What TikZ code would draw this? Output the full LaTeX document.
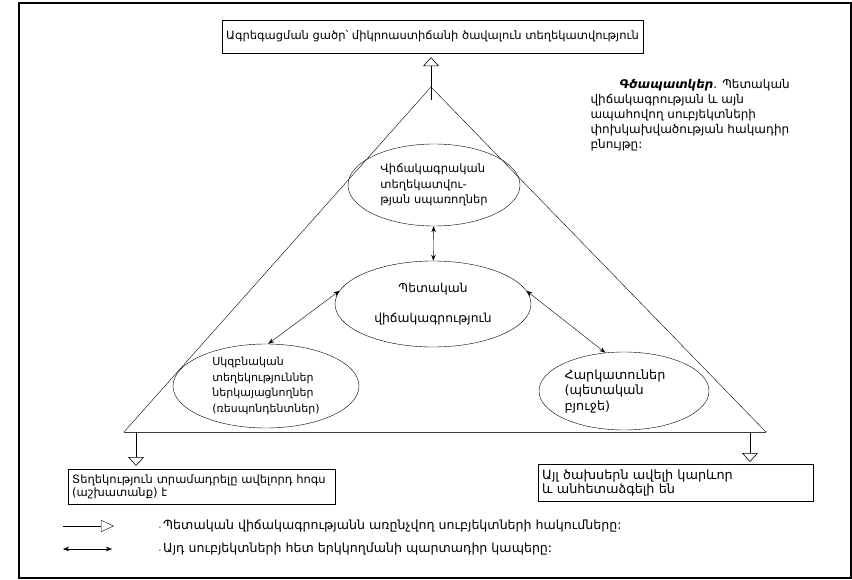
\documentclass[tikz,border=0pt]{standalone}
\usepackage{fontspec}
\setmainfont{DejaVu Sans}
\usetikzlibrary{shapes.geometric, positioning, arrows, arrows.meta}
\tikzset {
    >={Stealth[length=6pt, width=4.5pt]},
    every node/.style={font=\fontsize{11}{15.5}\selectfont},
    size/.style={font=\fontsize{#1}{15.5}\selectfont},
    blob/.style={ellipse, draw, inner sep=0pt, align=left},
    box/.style={rectangle, draw, inner sep=0pt, align=left},
    both/.style={<->},
    push/.style={line width=1pt, -{Triangle[open, length=9pt, width=16pt, line width=0.6pt]}},
    keypush/.style={-{Triangle[open, length=13pt, width=12pt]}}
}

\begin{document}
\begin{tikzpicture}[x=1pt, y=-1pt]
    \useasboundingbox (0,0) rectangle (852,580);
    \draw[line width=1.5pt] (19,3) rectangle (851,578);

    % pyramid
    \coordinate (apex) at (431,87);
    \coordinate (lft) at (124,432);
    \coordinate (rgt) at (766,432);
    \draw (lft) -- (apex) -- (rgt);
    \draw[line width=1pt, black!75] (lft) -- (rgt);

    \node[box, align=center, minimum width=421, minimum height=33, size=11.5] (top) at (432.5,36.5)
        {Ագրեգացման ցածր՝ միկրոաստիճանի ծավալուն տեղեկատվություն};

    \node[blob, minimum width=172, minimum height=82, size=11.5] (stats) at (434,185)
        {Վիճակագրական\\տեղեկատվու-\\թյան սպառողներ};
    \node[blob, minimum width=196, minimum height=86, align=center, size=12.3] (central) at (433,304)
        {Պետական\\[15pt]վիճակագրություն};
    \node[blob, minimum width=186, minimum height=84] (resp) at (266,386)
        {Սկզբնական\\տեղեկություններ\\ներկայացնողներ\\(ռեսպոնդենտներ)};
    \node[blob, minimum width=170, minimum height=78, size=12.8] (tax) at (624,391)
        {Հարկատուներ\hspace*{18pt}\\(պետական\\բյուջե)};

    \node[anchor=north west, align=left, size=12, font=\fontsize{12}{15}\selectfont] (caption) at (587,76)
        {\hspace*{29pt}\textbf{\textit{Գծապատկեր}}. Պետական\\վիճակագրության և այն\\ապահովող սուբյեկտների\\փոխկախվածության հակադիր\\բնույթը:};

    \node[box, minimum width=267, minimum height=35, anchor=north west,
          font=\fontsize{11.5}{13.5}\selectfont, text width=259] (burden) at (68,469)
        {Տեղեկություն տրամադրելը ավելորդ հոգս\\(աշխատանք) է};
    \node[box, minimum width=275, minimum height=37, anchor=north west,
          font=\fontsize{12.8}{14}\selectfont, text width=267] (other) at (538,464)
        {Այլ ծախսերն ավելի կարևոր\\և անհետաձգելի են};

    \coordinate (upstem) at (431,100);
    \coordinate (lstem) at (136,432);
    \coordinate (rstem) at (750,432);

    \draw[push, shorten >=4pt] (upstem) -- (upstem |- top.south);
    \draw[push, shorten >=3pt] (lstem) -- (lstem |- burden.north);
    \draw[push, shorten >=2pt] (rstem) -- (rstem |- other.north);

    \draw[both] (stats) -- (central);
    \draw[both] (central.172) -- (resp.87);
    \draw[both] (central.8) -- (tax.116);

    % legend
    \coordinate (k1a) at (63,526);
    \coordinate (k1b) at (114,526);
    \coordinate (k2a) at (63,549);
    \coordinate (k2b) at (112,549);
    \draw[keypush] (k1a) -- (k1b);
    \draw[both] (k2a) -- (k2b);
    \node[anchor=west, size=12.6] (key1) at (155,526)
        {{\fontsize{7}{7}\selectfont -}\,Պետական վիճակագրությանն առընչվող սուբյեկտների հակումները:};
    \node[anchor=west, size=12.6] (key2) at (155,549)
        {{\fontsize{7}{7}\selectfont -}\,Այդ սուբյեկտների հետ երկկողմանի պարտադիր կապերը:};
\end{tikzpicture}
\end{document}
